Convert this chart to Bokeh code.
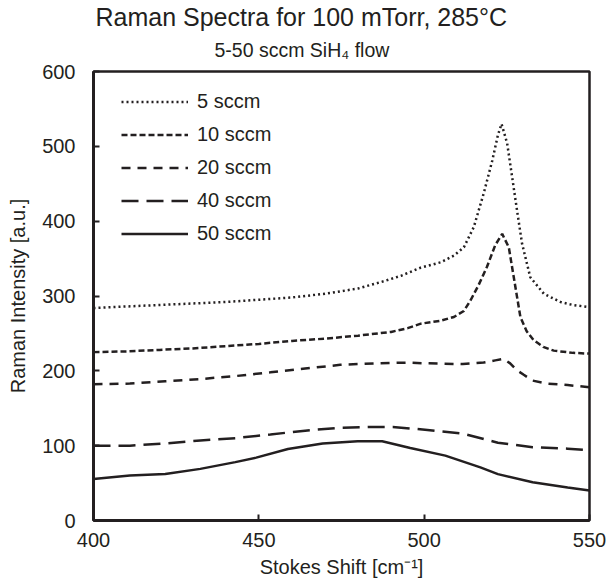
from bokeh.plotting import figure
from bokeh.models import Range1d, FixedTicker, Title
from bokeh.embed import file_html
from bokeh.resources import INLINE

# ---- data ----
x5 = [400, 410, 420, 430, 440, 450, 460, 470, 480, 488, 493, 499, 505, 509, 512, 515, 518, 520.6, 522.3, 523.4, 525.1, 526.6, 528.1, 529.6, 532.1, 536.2, 541.2, 545, 550]
y5 = [284, 286, 288, 290, 292, 295, 298, 303, 310, 320, 327, 338, 345, 354, 365, 392, 437, 481, 515, 530, 504, 459, 414, 370, 325, 303, 292, 288, 285]

x10 = [400, 410, 420, 430, 440, 450, 460, 470, 480, 490, 495, 499, 505, 509, 512, 514, 516.5, 519, 521.5, 523.6, 525.6, 527.1, 529.1, 531, 533.1, 536, 539.2, 545, 550]
y10 = [225, 226, 228, 230, 233, 236, 240, 243, 247, 252, 257, 263, 267, 272, 280, 294, 315, 339, 368, 383, 365, 325, 272, 253, 241, 232, 227, 224, 223]

x20 = [400, 411, 421.7, 432.3, 442.9, 453.5, 464, 474.6, 485.2, 495, 501, 511.7, 518, 521.5, 524, 526, 528, 530, 532.8, 537, 543.4, 550]
y20 = [182, 183, 186, 189, 193, 198, 203, 208, 210, 211, 210, 209, 211, 214, 216, 210, 201, 195, 187, 183, 181, 178]

x40 = [400, 411, 421.7, 432.3, 442.9, 453.5, 464, 474.6, 485.2, 490.5, 501, 511.7, 522.3, 532.8, 543.4, 550]
y40 = [100, 100, 103, 107, 110, 115, 120, 124, 125, 125, 121, 116, 104, 98, 96, 94]

x50 = [400, 411, 421.7, 432.3, 442.9, 449.2, 458.8, 469.3, 479.9, 487.3, 495.8, 506.4, 517, 522.3, 532.8, 543.4, 550]
y50 = [55.6, 60, 62, 69, 78, 84, 95.6, 103, 105.8, 105.8, 97, 86.7, 71, 62, 51, 44, 40]

series_labels = ["5 sccm", "10 sccm", "20 sccm", "40 sccm", "50 sccm"]
x_ticks = [400, 450, 500, 550]
y_ticks = [0, 100, 200, 300, 400, 500, 600]

title_text = "Raman Spectra for 100 mTorr, 285°C"
subtitle_text = "5-50 sccm SiH₄ flow"
x_label = "Stokes Shift [cm⁻¹]"
y_label = "Raman Intensity [a.u.]"

# ---- styling ----
FONT = "Liberation Sans"
INK = "#231f20"

p = figure(width=609, height=583, output_backend="svg", toolbar_location=None,
           x_range=Range1d(400, 550), y_range=Range1d(0, 600),
           min_border_left=93, min_border_right=20, min_border_top=71, min_border_bottom=63)
p.title = None
p.xgrid.visible = False
p.ygrid.visible = False
p.background_fill_color = "white"
p.border_fill_color = "white"
p.outline_line_color = INK
p.outline_line_width = 2.5

styles = [
    (x5, y5, "2 3"),
    (x10, y10, "6 3"),
    (x20, y20, "9 7"),
    (x40, y40, "17 8"),
    (x50, y50, "solid"),
]
for (xs, ys, dash), lab in zip(styles, series_labels):
    p.line(xs, ys, line_color=INK, line_width=2.5, line_dash=dash, legend_label=lab)

for ax in (p.xaxis[0], p.yaxis[0]):
    ax.axis_line_color = INK
    ax.axis_line_width = 3
    ax.major_tick_line_color = INK
    ax.major_tick_line_width = 2
    ax.major_tick_in = 6
    ax.major_tick_out = 0
    ax.minor_tick_line_color = None
    ax.major_label_text_font = FONT
    ax.major_label_text_font_size = "20px"
    ax.major_label_text_color = INK
    ax.axis_label_text_font = FONT
    ax.axis_label_text_font_size = "20px"
    ax.axis_label_text_font_style = "normal"
    ax.axis_label_text_color = INK

p.xaxis.ticker = FixedTicker(ticks=x_ticks)
p.yaxis.ticker = FixedTicker(ticks=y_ticks)
p.xaxis.axis_label = x_label
p.yaxis.axis_label = y_label
p.xaxis.major_label_standoff = 12
p.yaxis.major_label_standoff = 18
p.xaxis.axis_label_standoff = 6
p.yaxis.axis_label_standoff = 10

leg = p.legend[0]
leg.location = (28, 270)
leg.border_line_color = None
leg.background_fill_alpha = 0
leg.label_text_font = FONT
leg.label_text_font_size = "20px"
leg.label_text_color = INK
leg.glyph_width = 67
leg.glyph_height = 33
leg.label_height = 33
leg.spacing = 0
leg.padding = 0
leg.margin = 0
leg.label_standoff = 9

p.add_layout(Title(text=subtitle_text, text_font=FONT, text_font_size="19.5px",
                   text_font_style="normal", text_color=INK, align="left",
                   offset=121, standoff=21), "above")
p.add_layout(Title(text=title_text, text_font=FONT, text_font_size="25px",
                   text_font_style="normal", text_color=INK, align="left",
                   offset=2, standoff=-8), "above")

open("out.html", "w").write(file_html(p, INLINE))
